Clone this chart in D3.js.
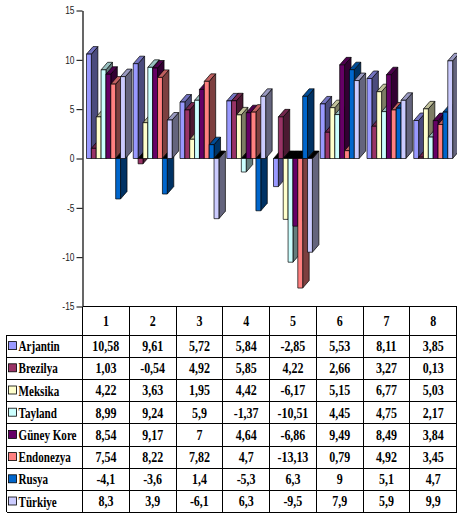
<!DOCTYPE html>
<html>
<head>
<meta charset="utf-8">
<script src="https://cdn.jsdelivr.net/npm/d3@7/dist/d3.min.js"></script>
<style>
  html, body { margin: 0; padding: 0; background: #fff; }
  svg { display: block; }
</style>
</head>
<body>
<svg id="chart" width="457" height="513"></svg>
<script>
// Period columns of the data table
const categories = ["1", "2", "3", "4", "5", "6", "7", "8"];

// Countries (one series each)
const seriesNames = ["Arjantin", "Brezilya", "Meksika", "Tayland", "Güney Kore", "Endonezya", "Rusya", "Türkiye"];

// Values per country, one per period
const arjantin  = [10.58, 9.61, 5.72, 5.84, -2.85, 5.53, 8.11, 3.85];
const brezilya  = [1.03, -0.54, 4.92, 5.85, 4.22, 2.66, 3.27, 0.13];
const meksika   = [4.22, 3.63, 1.95, 4.42, -6.17, 5.15, 6.77, 5.03];
const tayland   = [8.99, 9.24, 5.9, -1.37, -10.51, 4.45, 4.75, 2.17];
const guneyKore = [8.54, 9.17, 7, 4.64, -6.86, 9.49, 8.49, 3.84];
const endonezya = [7.54, 8.22, 7.82, 4.7, -13.13, 0.79, 4.92, 3.45];
const rusya     = [-4.1, -3.6, 1.4, -5.3, 6.3, 9, 5.1, 4.7];
const turkiye   = [8.3, 3.9, -6.1, 6.3, -9.5, 7.9, 5.9, 9.9];

const seriesValues = [arjantin, brezilya, meksika, tayland, guneyKore, endonezya, rusya, turkiye];

// Value axis ticks
const yTicks = [-15, -10, -5, 0, 5, 10, 15];

const colors = ["#9999FF", "#993366", "#FFFFCC", "#CCFFFF", "#660066", "#FF8080", "#0066CC", "#CCCCFF"];

const svg = d3.select("#chart");

const plotLeft = 82.5, plotRight = 456.5;
const plotTop = 10.5, plotBottom = 306.5;

const x = d3.scaleBand().domain(categories).range([plotLeft, plotRight]).padding(0);
const y = d3.scaleLinear().domain([-15, 15]).range([plotBottom, plotTop]);

// Bars inside each period
const barW = x.bandwidth() * 0.104;
const xs = d3.scaleBand().domain(seriesNames).range([4, 4 + barW * 8]).padding(0);
const dx = 6.5, dy = 7.5;

const labelFmt = v => String(v).replace(".", ",");

// Value axis
const axis = svg.append("g")
  .attr("transform", `translate(${plotLeft},0)`)
  .call(d3.axisLeft(y).tickValues(yTicks).tickSize(6).tickSizeOuter(0).tickFormat(d => String(d)));
axis.select(".domain").attr("stroke", "#000").attr("stroke-width", 1.2);
axis.selectAll(".tick line").attr("stroke", "#000");
axis.selectAll(".tick text")
  .attr("font-family", "'Liberation Sans', Arial, sans-serif")
  .attr("font-size", 10.5)
  .attr("fill", "#222")
  .each(function () {
    const t = d3.select(this);
    const xx = +t.attr("x") || -9;
    t.attr("x", null).attr("transform", `translate(${xx + 1},0) scale(0.8,1)`);
  });

// 3D-style columns: front, right side, top
const barsG = svg.append("g").attr("stroke", "#000").attr("stroke-width", 0.7).attr("stroke-linejoin", "round");
const y0 = y(0);
categories.forEach((cat, ci) => {
  seriesNames.forEach((name, si) => {
    const v = seriesValues[si][ci];
    const base = d3.color(colors[si]);
    const side = base.darker(2).formatHex();
    const topC = base.darker(0.8).formatHex();
    const bx = x(cat) + xs(name);
    const yv = y(v);
    const g = barsG.append("g");
    if (v >= 0) {
      g.append("path").attr("fill", side)
        .attr("d", `M${bx + barW},${yv}L${bx + barW + dx},${yv - dy}L${bx + barW + dx},${y0 - dy}L${bx + barW},${y0}Z`);
      g.append("path").attr("fill", topC)
        .attr("d", `M${bx},${yv}L${bx + dx},${yv - dy}L${bx + barW + dx},${yv - dy}L${bx + barW},${yv}Z`);
      g.append("rect").attr("fill", colors[si])
        .attr("x", bx).attr("y", yv).attr("width", barW).attr("height", y0 - yv);
    } else {
      g.append("path").attr("fill", side)
        .attr("d", `M${bx + barW},${y0}L${bx + barW + dx},${y0 - dy}L${bx + barW + dx},${yv - dy}L${bx + barW},${yv}Z`);
      g.append("path").attr("fill", "#000")
        .attr("d", `M${bx},${y0}L${bx + dx},${y0 - dy}L${bx + barW + dx},${y0 - dy}L${bx + barW},${y0}Z`);
      g.append("rect").attr("fill", colors[si])
        .attr("x", bx).attr("y", y0).attr("width", barW).attr("height", yv - y0);
    }
  });
});

// Data table
const tableLeft = 6.5;
const headerTop = plotBottom, headerBottom = 334.5;
const rowH = 22.2;
const tableBottom = headerBottom + rowH * seriesNames.length;
const tbl = svg.append("g");
const lines = tbl.append("g").attr("stroke", "#000").attr("stroke-width", 1).attr("shape-rendering", "crispEdges");

lines.append("line").attr("x1", plotLeft).attr("x2", plotRight).attr("y1", headerTop).attr("y2", headerTop);
for (let r = 0; r <= seriesNames.length; r++) {
  const yy = Math.round(headerBottom + r * rowH) + 0.5;
  lines.append("line").attr("x1", tableLeft).attr("x2", plotRight).attr("y1", yy).attr("y2", yy);
}
lines.append("line").attr("x1", tableLeft).attr("x2", tableLeft).attr("y1", headerBottom).attr("y2", tableBottom);
categories.forEach(cat => {
  lines.append("line").attr("x1", x(cat)).attr("x2", x(cat)).attr("y1", headerTop).attr("y2", tableBottom);
});
lines.append("line").attr("x1", plotRight).attr("x2", plotRight).attr("y1", headerTop).attr("y2", tableBottom);

const serif = "'Liberation Serif', 'Times New Roman', serif";
const tText = (g, tx, ty, str, anchor, sx) => g.append("text")
  .attr("transform", `translate(${tx},${ty}) scale(${sx},1)`)
  .attr("text-anchor", anchor)
  .attr("dominant-baseline", "central")
  .attr("font-family", serif)
  .attr("font-weight", "bold")
  .attr("font-size", 15)
  .attr("fill", "#000")
  .text(str);

categories.forEach(cat => {
  tText(tbl, x(cat) + x.bandwidth() / 2, (headerTop + headerBottom) / 2 + 1, cat, "middle", 0.8);
});

seriesNames.forEach((name, si) => {
  const cy = headerBottom + rowH * si + rowH / 2 + 0.5;
  tbl.append("rect")
    .attr("x", 8.5).attr("y", cy - 4.5).attr("width", 8).attr("height", 8)
    .attr("fill", colors[si]).attr("stroke", "#000").attr("stroke-width", 0.8);
  tText(tbl, 18.5, cy, name, "start", 0.74);
  categories.forEach((cat, ci) => {
    tText(tbl, x(cat) + x.bandwidth() / 2, cy, labelFmt(seriesValues[si][ci]), "middle", 0.8);
  });
});
</script>
</body>
</html>
